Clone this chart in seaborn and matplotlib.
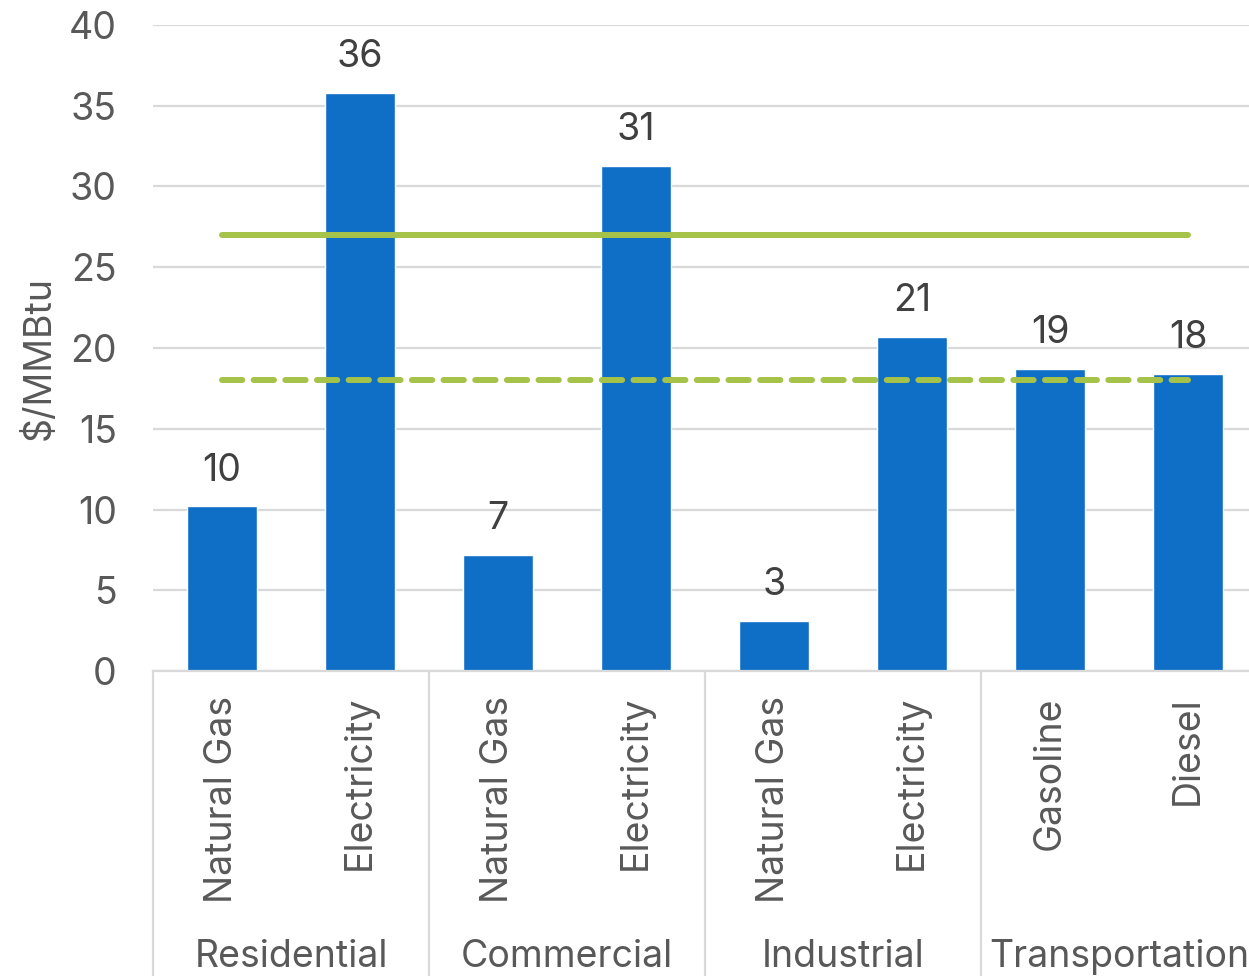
import matplotlib
matplotlib.use("Agg")
import matplotlib.pyplot as plt
import seaborn as sns
import pandas as pd
import numpy as np

sectors = ['Residential', 'Residential', 'Commercial', 'Commercial',
           'Industrial', 'Industrial', 'Transportation', 'Transportation']
fuels = ['Natural Gas', 'Electricity', 'Natural Gas', 'Electricity',
         'Natural Gas', 'Electricity', 'Gasoline', 'Diesel']
prices = [10.2, 35.8, 7.2, 31.3, 3.1, 20.7, 18.7, 18.4]
line_solid = [27.0] * 8
line_dashed = [18.0] * 8
group_names = ['Residential', 'Commercial', 'Industrial', 'Transportation']

sns.set_style('white')
plt.rcParams['font.family'] = ['Inter', 'DejaVu Sans']
plt.rcParams['axes.unicode_minus'] = False

grey = '#595959'
blue = '#0F6FC6'
green = '#A5C249'
fs = 27

df = pd.DataFrame({'pos': [str(i) for i in range(len(fuels))], 'fuel': fuels,
                   'sector': sectors, 'price': prices})

fig = plt.figure(figsize=(12.49, 9.76), dpi=100)
ax = fig.add_axes([153/1249, 1 - 671/976, 1104/1249, (671 - 25)/976])

sns.barplot(data=df, x='pos', y='price', color=blue, width=0.51,
            saturation=1, ax=ax, zorder=2)
for i, v in enumerate(prices):
    ax.text(i, v + 1.1, f'{v:.0f}', ha='center', va='bottom',
            fontsize=fs, color='#404040')

x = np.arange(len(fuels))
ax.plot(x, line_solid, color=green, lw=4.3, solid_capstyle='round', zorder=3)
ax.plot(x, line_dashed, color=green, lw=4.3, dashes=(3.4, 1.9),
        dash_capstyle='round', zorder=3)

ax.set_ylim(0, 40)
ax.set_xlim(-0.5, len(fuels) - 0.5)
ax.set_yticks(range(0, 41, 5))
ax.yaxis.grid(True, color='#D9D9D9', lw=1.6, zorder=0)
ax.set_axisbelow(True)
ax.tick_params(axis='y', length=0, pad=26, labelsize=fs, labelcolor=grey)
ax.set_ylabel('$/MMBtu', fontsize=fs, color=grey)
ax.yaxis.set_label_coords(-0.086, 0.485)
for s in ['top', 'right', 'left']:
    ax.spines[s].set_visible(False)
ax.spines['bottom'].set_color('#D9D9D9')
ax.spines['bottom'].set_linewidth(1.6)

ax.set_xticks(x)
ax.set_xticklabels(fuels, rotation=90, va='top', ha='center',
                   fontsize=fs, color=grey)
ax.tick_params(axis='x', length=0, pad=18)
ax.set_xlabel('')

# group separators and group labels below the axis
trans = ax.get_xaxis_transform()
for b in [-0.5, 1.5, 3.5, 5.5]:
    ax.plot([b, b], [0, -1], transform=trans, color='#D9D9D9', lw=1.6,
            clip_on=False)
for k, name in enumerate(group_names):
    ax.text(2 * k + 0.5, -(967 - 671) / 646, name, transform=trans,
            ha='center', va='baseline', fontsize=fs, color=grey)

fig.savefig('out.png', dpi=100)
